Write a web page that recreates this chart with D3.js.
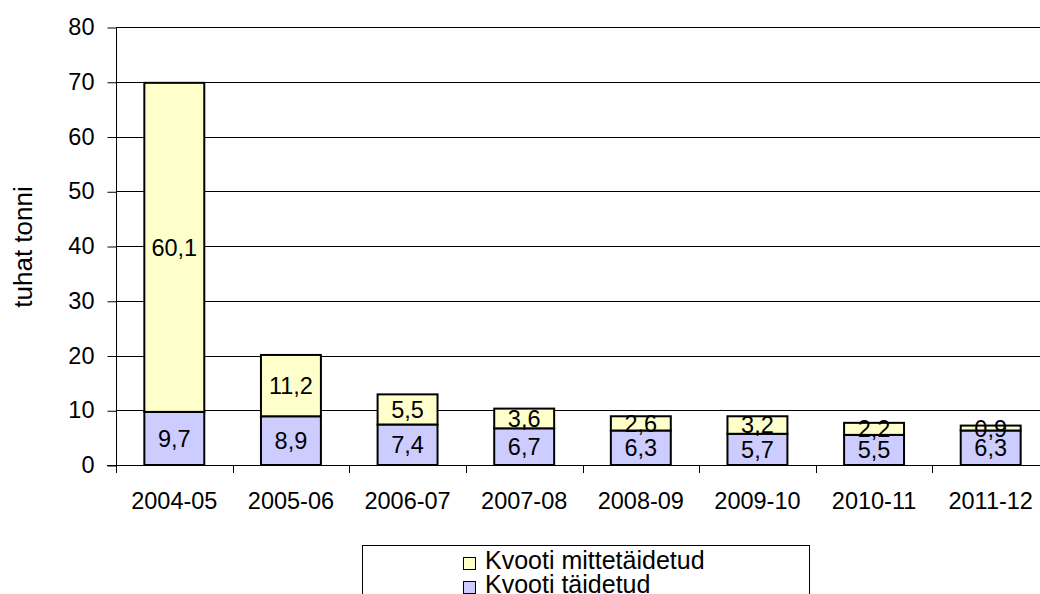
<!DOCTYPE html>
<html>
<head>
<meta charset="utf-8">
<script src="https://cdn.jsdelivr.net/npm/d3@7"></script>
<style>
  body { margin: 0; background: #fff; }
  svg { display: block; font-family: "Liberation Sans", Arial, sans-serif; }
</style>
</head>
<body>
<div id="chart"></div>
<script>
// data
const seasons = ["2004-05", "2005-06", "2006-07", "2007-08", "2008-09", "2009-10", "2010-11", "2011-12"];
const filled = [9.7, 8.9, 7.4, 6.7, 6.3, 5.7, 5.5, 6.3];     // Kvooti täidetud
const unfilled = [60.1, 11.2, 5.5, 3.6, 2.6, 3.2, 2.2, 0.9]; // Kvooti mittetäidetud
const yTicks = [0, 10, 20, 30, 40, 50, 60, 70, 80];
const seriesNames = ["Kvooti mittetäidetud", "Kvooti täidetud"];
const seriesColors = ["#ffffcc", "#ccccff"];

const W = 1040, H = 594;
const plot = { left: 116, right: 1049, top: 27, bottom: 465 };
const FS = 23.5;

const svg = d3.select("#chart").append("svg")
  .attr("width", W)
  .attr("height", H);

const x = d3.scaleBand()
  .domain(seasons)
  .range([plot.left, plot.right])
  .paddingInner(0.486)
  .paddingOuter(0.243);

const y = d3.scaleLinear().domain([0, 80]).range([plot.bottom, plot.top]);

// gridlines
svg.append("g")
  .selectAll("line")
  .data(yTicks.filter((t) => t > 0))
  .enter()
  .append("line")
  .attr("x1", plot.left)
  .attr("x2", W)
  .attr("y1", (d) => Math.round(y(d)) + 0.5)
  .attr("y2", (d) => Math.round(y(d)) + 0.5)
  .attr("stroke", "#000")
  .attr("stroke-width", 1);

// y axis
const yAxis = svg.append("g")
  .attr("transform", "translate(" + (plot.left + 0.5) + ",0)")
  .call(d3.axisLeft(y).tickValues(yTicks).tickSize(9).tickPadding(13));
yAxis.select(".domain").attr("d", "M0," + (plot.top + 0.5) + "V" + (plot.bottom + 0.5));
yAxis.selectAll(".tick line").attr("transform", "translate(0,0.5)");
yAxis.selectAll("text")
  .attr("font-size", FS)
  .attr("font-family", "Liberation Sans, Arial, sans-serif")
  .attr("fill", "#000");

// x axis (ticks at category boundaries)
const xg = svg.append("g");
xg.append("line")
  .attr("x1", plot.left - 9)
  .attr("x2", W)
  .attr("y1", plot.bottom + 0.5)
  .attr("y2", plot.bottom + 0.5)
  .attr("stroke", "#000");
const step = x.step();
xg.selectAll(".tk")
  .data(seasons.map((s, i) => i))
  .enter()
  .append("line")
  .attr("x1", (i) => Math.round(plot.left + i * step) + 0.5)
  .attr("x2", (i) => Math.round(plot.left + i * step) + 0.5)
  .attr("y1", plot.bottom)
  .attr("y2", plot.bottom + 8)
  .attr("stroke", "#000");
xg.selectAll("text")
  .data(seasons)
  .enter()
  .append("text")
  .attr("x", (d) => x(d) + x.bandwidth() / 2)
  .attr("y", 509)
  .attr("text-anchor", "middle")
  .attr("font-size", FS)
  .text((d) => d);

// stacked bars
const rows = seasons.map((s, i) => ({ season: s, filled: filled[i], unfilled: unfilled[i] }));
const stack = d3.stack().keys(["filled", "unfilled"])(rows);
const colorByKey = { filled: seriesColors[1], unfilled: seriesColors[0] };

stack.forEach((layer) => {
  const g = svg.append("g");
  g.selectAll("rect")
    .data(layer)
    .enter()
    .append("rect")
    .attr("x", (d) => x(d.data.season))
    .attr("y", (d) => y(d[1]))
    .attr("width", x.bandwidth())
    .attr("height", (d) => y(d[0]) - y(d[1]))
    .attr("fill", colorByKey[layer.key])
    .attr("stroke", "#000")
    .attr("stroke-width", 2);
});

// value labels
stack.forEach((layer) => {
  svg.append("g")
    .selectAll("text")
    .data(layer)
    .enter()
    .append("text")
    .attr("x", (d) => x(d.data.season) + x.bandwidth() / 2)
    .attr("y", (d) => (y(d[0]) + y(d[1])) / 2)
    .attr("dy", "0.36em")
    .attr("text-anchor", "middle")
    .attr("font-size", FS)
    .text((d) => String(d.data[layer.key]).replace(".", ","));
});

// y axis title
svg.append("text")
  .attr("transform", "translate(32,247) rotate(-90)")
  .attr("text-anchor", "middle")
  .attr("font-size", 26)
  .text("tuhat tonni");

// legend
const lg = svg.append("g");
lg.append("rect")
  .attr("x", 362.5)
  .attr("y", 545.5)
  .attr("width", 447)
  .attr("height", 80)
  .attr("fill", "#fff")
  .attr("stroke", "#000");
seriesNames.forEach((name, i) => {
  lg.append("rect")
    .attr("x", 463.5)
    .attr("y", 557.5 + i * 24)
    .attr("width", 12)
    .attr("height", 12)
    .attr("fill", seriesColors[i])
    .attr("stroke", "#000");
  lg.append("text")
    .attr("x", 485)
    .attr("y", 569 + i * 24)
    .attr("font-size", 25)
    .text(name);
});
</script>
</body>
</html>
